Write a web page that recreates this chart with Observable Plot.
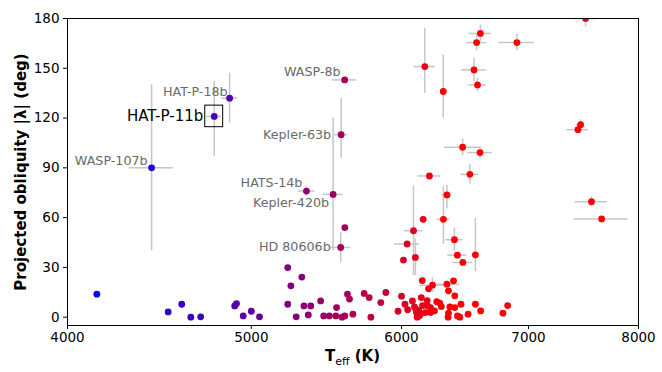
<!DOCTYPE html>
<html><head><meta charset="utf-8">
<script src="https://cdn.jsdelivr.net/npm/d3@7"></script>
<script src="https://cdn.jsdelivr.net/npm/@observablehq/plot@0.6"></script>
<style>body{margin:0;background:#fff}</style>
</head><body><div id="chart"></div>
<script>
// Points with error bars (Teff in K, projected obliquity in deg)
const errNames   = ["WASP-107b","HAT-P-11b","HAT-P-18b","WASP-8b","Kepler-63b","HATS-14b","Kepler-420b","HD 80606b",
                    "","","","","","","","","","","","","","","","","","","","","","","","","","",""];
const errTeff    = [4430,4780,4870,5600,5576,5346,5522,5573,
                    6603,6573,6902,6172,6552,6580,6312,7502,7457,7433,7556,7650,6462,6600,6207,6519,6340,6313,6088,6398,6041,6563,6421,6102,6464,6230,6340];
const errLam     = [90,121,132,143,110,76,74,42,
                    171,165.5,165.5,151,149,140,136,180,116,113,69.6,59.2,102.4,99.2,85.1,86.1,73.7,59,52.1,46.7,44.1,37.6,37.4,36,33,19.3,19.9];
const errTeffErr = [118,43,47,82,45,54,67,67,
                    90,80,149,81,99,70,0,109,40,99,147,250,140,98,88,69,38,48,69,68,92,0,74,0,78,94,97];
const errLamLo   = [50,24,15,0,14,3,34,9,
                    5,5,5,16,7,4,16,5,3,0,3,0,5,3.5,0,6,8.5,15,27,7,0,10,0,11,0,4.5,0];
const errLamHi   = [50,21,15,0,22,3,46,9,
                    5,5,5,23,7,4,22,5,3,0,3,0,5,3.5,0,6,5.6,20,27,7,0,22,0,11,0,4.5,0];

// Points without visible error bars
const lowTeff = [4145,4520,4595,4646,4702,4900,4911,4951,5000,5050,5226,5246,5316,5226,5330,5374,5439,5280,5358,5459,5497,
                 5545,5540,5582,5601,5656,5619,5633,5734,5769,5781,5851,5887,5601,6160,6014,
                 5975,6000,6025,6045,6080,6095,6105,6115,6120,6130,6140,6146,6155,6153,6175,6190,6192,6200,6215,6215,6245,
                 6262,6285,6297,6349,6352,6352,6363,6391,6401,6401,6422,6449,6440,6505,6563,6605,6786,6825,6110,6128];
const lowLam  = [13.9,3.2,7.8,0,0.2,6.8,8.2,0.8,3.6,0.2,29.9,18.9,24.2,7.8,6.8,6.8,9.8,0.2,1.4,0.8,0.8,
                 5.8,0.8,0,0.8,1.8,13.9,10.9,14.3,11.8,0,8.8,14.9,54,59,34.4,
                 3.6,12.7,7.8,4.5,9.8,6.2,4.8,0,2.2,0.8,1.8,11.8,7.0,22.1,2.8,10,6.8,17.1,2.8,5.8,3.8,
                 9.3,8.5,6.4,0,2.4,15.9,6.2,21.9,12.9,5.8,0.8,7.8,0,1.8,7.8,3.8,2.4,7.0,2.8,4.0];

const xTicks = [4000,5000,6000,7000,8000];
const yTicks = [0,30,60,90,120,150,180];
const highlightName = "HAT-P-11b";

// label placement (style, not data)
const labelOffsets = {
  "WASP-107b":  {dx:-4,  dy:-7},
  "HAT-P-18b":  {dx:-2,  dy:-6},
  "HAT-P-11b":  {dx:-11, dy:0, size:15, color:"#000"},
  "WASP-8b":    {dx:-4,  dy:-8},
  "Kepler-63b": {dx:-10, dy:0},
  "HATS-14b":   {dx:-4,  dy:-8},
  "Kepler-420b":{dx:-4,  dy:9},
  "HD 80606b":  {dx:-10, dy:-1}
};

const errData = errTeff.map((t,i)=>({teff:t, lam:errLam[i], dT:errTeffErr[i], lo:errLamLo[i], hi:errLamHi[i], name:errNames[i]}));
const lowData = lowTeff.map((t,i)=>({teff:t, lam:lowLam[i]}));
const allData = errData.concat(lowData);
const hl = errData.filter(d=>d.name===highlightName);

const errStroke = "#c6c6c6";
const labelMarks = errData.filter(d=>d.name).map(d=>{
  const o = labelOffsets[d.name] || {dx:-4, dy:-8};
  return Plot.text([d], {x:"teff", y:"lam", text:"name", textAnchor:"end", dx:o.dx, dy:o.dy,
    fontSize:o.size||12.7, fill:o.color||"#6a6a6a"});
});

const plot = Plot.plot({
  width:662, height:372,
  marginLeft:67, marginRight:24, marginTop:18, marginBottom:47,
  style:{fontFamily:"DejaVu Sans, sans-serif", fontSize:"13.5px", color:"black", background:"white"},
  x:{type:"log", domain:[4000,8000], ticks:xTicks, tickFormat:d3.format("d"), label:null, tickSize:4, tickPadding:3},
  y:{domain:[-5,180], ticks:yTicks, label:null, tickSize:4, tickPadding:4},
  color:{type:"linear", domain:[4150,6350], range:["#0000ff","#ff0000"], clamp:true, interpolate:d3.interpolateRgb},
  marks:[
    Plot.ruleY(errData.filter(d=>d.dT>0), {y:"lam", x1:d=>d.teff-d.dT, x2:d=>d.teff+d.dT, stroke:errStroke, strokeWidth:1.5, clip:true}),
    Plot.ruleX(errData.filter(d=>d.lo+d.hi>0), {x:"teff", y1:d=>d.lam-d.lo, y2:d=>d.lam+d.hi, stroke:errStroke, strokeWidth:1.5, clip:true}),
    Plot.dot(allData, {x:"teff", y:"lam", fill:"teff", r:3.4, clip:true}),
    Plot.rect(hl, {x1:d=>d.teff-52, x2:d=>d.teff+52, y1:d=>d.lam-6.5, y2:d=>d.lam+6.5, fill:"none", stroke:"black", strokeWidth:1}),
    ...labelMarks,
    Plot.frame({stroke:"black", strokeWidth:1}),
    Plot.text(["Projected obliquity |λ| (deg)"], {text:d=>d, frameAnchor:"left", textAnchor:"middle", rotate:-90, dx:-46, fontWeight:"bold", fontSize:15, fill:"black"})
  ]
});

const svg = d3.select(plot);
const tx = svg.append("text")
  .attr("x", (67 + 662 - 24)/2).attr("y", 361)
  .attr("text-anchor","middle").attr("font-weight","bold").attr("font-size",15).attr("fill","black");
tx.append("tspan").text("T");
tx.append("tspan").attr("font-size",11).attr("font-weight","normal").attr("dy",4).text("eff");
tx.append("tspan").attr("dy",-4).text(" (K)");

document.getElementById("chart").appendChild(plot);
</script>
</body></html>
